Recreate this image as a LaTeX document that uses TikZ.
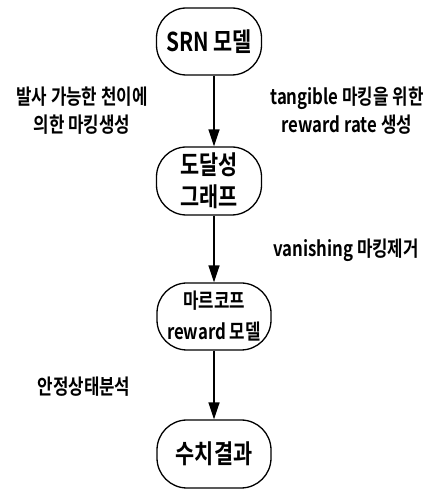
\documentclass[tikz,border=0pt]{standalone}
\usepackage{fontspec}
\setmainfont{Noto Sans CJK KR}[BoldFont={* Bold},FakeStretch=0.8]
\usetikzlibrary{arrows.meta}
\tikzset{
  box/.style={draw,line width=1.3pt,rounded corners=30pt,align=center,inner sep=0pt},
  bigtext/.style={font=\bfseries\fontsize{26}{32}\selectfont},
  midtext/.style={font=\bfseries\fontsize{21}{31}\selectfont},
  lbl/.style={align=center,inner sep=0pt,font=\bfseries\fontsize{21}{28}\selectfont},
  flow/.style={line width=1.6pt,-{Triangle[length=17pt,width=11pt]}}
}
\begin{document}
\begin{tikzpicture}[x=1pt,y=1pt]
\useasboundingbox (0,0) rectangle (430,490);
\coordinate (ax) at (214,0);
\node[box,bigtext,minimum width=105pt,minimum height=67pt] (n1) at (209,448.5) {SRN 모델};
\node[box,bigtext,minimum width=105pt,minimum height=68pt] (n2) at (209,309) {도달성\\그래프};
\node[box,midtext,minimum width=114pt,minimum height=67pt] (n3) at (214,173.5) {마르코프\\reward 모델};
\node[box,bigtext,minimum width=114pt,minimum height=68pt] (n4) at (214,36) {수치결과};
\draw[flow] (n1.south -| ax) -- (n2.north -| ax);
\draw[flow] (n2.south -| ax) -- (n3.north -| ax);
\draw[flow] (n3.south -| ax) -- (n4.north -| ax);
\node[lbl] (l1) at (82,379) {발사 가능한 천이에\\의한 마킹생성};
\node[lbl] (l2) at (347,379) {tangible 마킹을 위한\\reward rate 생성};
\node[lbl] (l3) at (346,240) {vanishing 마킹제거};
\node[lbl] (l4) at (84,103) {안정상태분석};
\end{tikzpicture}
\end{document}
